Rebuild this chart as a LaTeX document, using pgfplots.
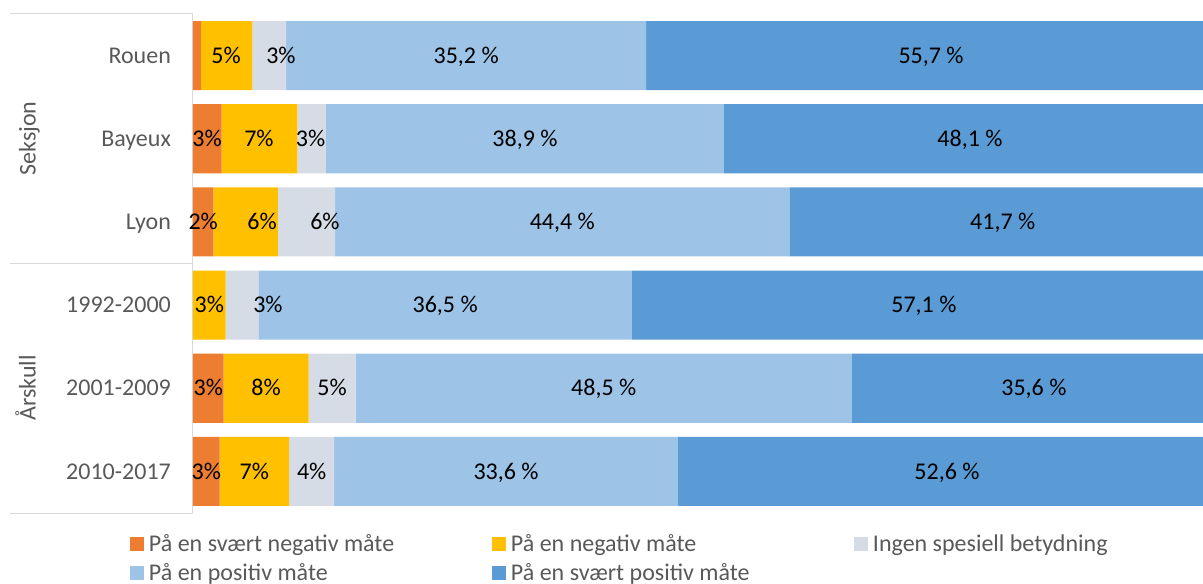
\documentclass[border=0pt]{standalone}
\usepackage{pgfplots}
\usepackage{pgfplotstable}
\pgfplotsset{compat=1.18}
\usepackage{fontspec}
\setmainfont{Carlito}

\definecolor{c1}{HTML}{ED7D31}
\definecolor{c2}{HTML}{FFC000}
\definecolor{c3}{HTML}{D6DCE5}
\definecolor{c4}{HTML}{9DC3E6}
\definecolor{c5}{HTML}{5B9BD5}
\definecolor{txt}{HTML}{595959}
\definecolor{grid}{HTML}{D9D9D9}

% shares in percent, one row per category (0 = top)
\pgfplotstableread{
row  o    y    g    lb    db
0    0.8  5.0  3.3  35.2  55.7
1    2.8  7.4  2.8  38.9  48.1
2    2.0  6.3  5.6  44.4  41.7
3    0.0  3.2  3.2  36.5  57.1
4    3.0  8.3  4.6  48.5  35.6
5    2.6  6.8  4.4  33.6  52.6
}\shares

% data labels as placed in the chart
\pgfplotstableread{
x      row  lbl
3.23   0    {5\%}
8.60   0    {3\%}
26.7   0    {35,2 \%}
72.15  0    {55,7 \%}
1.37   1    {3\%}
6.45   1    {7\%}
11.5   1    {3\%}
32.45  1    {38,9 \%}
75.95  1    {48,1 \%}
1.0    2    {2\%}
6.75   2    {6\%}
12.9   2    {6\%}
36.1   2    {44,4 \%}
79.15  2    {41,7 \%}
1.6    3    {3\%}
7.33   3    {3\%}
24.65  3    {36,5 \%}
71.45  3    {57,1 \%}
1.5    4    {3\%}
7.15   4    {8\%}
13.6   4    {5\%}
40.15  4    {48,5 \%}
82.2   4    {35,6 \%}
1.3    5    {3\%}
6.0    5    {7\%}
11.6   5    {4\%}
30.6   5    {33,6 \%}
73.7   5    {52,6 \%}
}\labels

\newcommand{\lab}{\fontsize{18}{21.5}\selectfont}

\pgfplotsset{frame/.style={
  scale only axis,
  width=767.25pt, height=374.25pt,
  xmin=0, xmax=100,
  ymin=-0.5, ymax=5.5,
  y dir=reverse,
  clip=false,
}}

\begin{document}
\begin{tikzpicture}
\begin{axis}[
  frame,
  name=ax,
  xbar stacked,
  bar width=0.83,
  axis x line=none,
  axis y line=left,
  y axis line style={-, draw=grid, line width=0.75pt},
  ytick={0,...,5},
  yticklabels={Rouen,Bayeux,Lyon,1992-2000,2001-2009,2010-2017},
  ytick style={draw=none},
  yticklabel style={font=\lab, text=txt, anchor=base east, inner sep=0pt,
    xshift=-14.25pt, yshift=-5.8pt},
  legend columns=3,
  legend image code/.code={\fill[#1] (0pt,0pt) rectangle (10.5pt,10.5pt);},
  legend style={
    draw=none, fill=none, inner sep=0pt, outer sep=0pt,
    at={([shift={(-47.25pt,-15.5pt)}]rel axis cs:0,0)}, anchor=north west,
    font=\lab, text=txt,
    cells={anchor=base west},
    nodes={inner sep=0pt, text height=13pt, text depth=4pt},
    column sep=0pt, row sep=5.1pt,
  },
]
\addplot[fill=c1, draw=none] table[x=o, y=row] {\shares};
\addlegendentry{\hspace{3.75pt}\makebox[257.25pt][l]{På en svært negativ måte}}
\addplot[fill=c2, draw=none] table[x=y, y=row] {\shares};
\addlegendentry{\hspace{3.75pt}\makebox[257.25pt][l]{På en negativ måte}}
\addplot[fill=c3, draw=none] table[x=g, y=row] {\shares};
\addlegendentry{\hspace{3.75pt}\makebox[257.25pt][l]{Ingen spesiell betydning}}
\addplot[fill=c4, draw=none] table[x=lb, y=row] {\shares};
\addlegendentry{\hspace{3.75pt}\makebox[257.25pt][l]{På en positiv måte}}
\addplot[fill=c5, draw=none] table[x=db, y=row] {\shares};
\addlegendentry{\hspace{3.75pt}\makebox[257.25pt][l]{På en svært positiv måte}}
\end{axis}

% data labels, in an overlaid axis with the same scale
\begin{axis}[
  frame,
  at={(ax.south west)}, anchor=south west,
  hide axis,
]
\addplot[draw=none, mark=none,
  nodes near coords, point meta=explicit symbolic,
  every node near coord/.style={anchor=base, font=\lab, text=black,
    inner sep=0pt, yshift=-5.8pt}]
  table[x=x, y=row, meta=lbl] {\labels};
\end{axis}

% multi-level category frame and group names
\draw[grid, line width=0.75pt]
  ([shift={(-137.25pt,374.25pt)}]ax.south west) -- ([shift={(0pt,374.25pt)}]ax.south west)
  ([shift={(-137.25pt,187.5pt)}]ax.south west) -- ([shift={(0pt,187.5pt)}]ax.south west)
  ([shift={(-137.25pt,0pt)}]ax.south west) -- (ax.south west);
\node[rotate=90, anchor=base, font=\lab, text=txt, inner sep=0pt]
  at ([shift={(-118.1pt,280.9pt)}]ax.south west) {Seksjon};
\node[rotate=90, anchor=base, font=\lab, text=txt, inner sep=0pt]
  at ([shift={(-118.1pt,93.75pt)}]ax.south west) {Årskull};

\pgfresetboundingbox
\path[use as bounding box]
  ([shift={(-144.75pt,-52.5pt)}]ax.south west) rectangle
  ([shift={(757.5pt,384.75pt)}]ax.south west);
\end{tikzpicture}
\end{document}
